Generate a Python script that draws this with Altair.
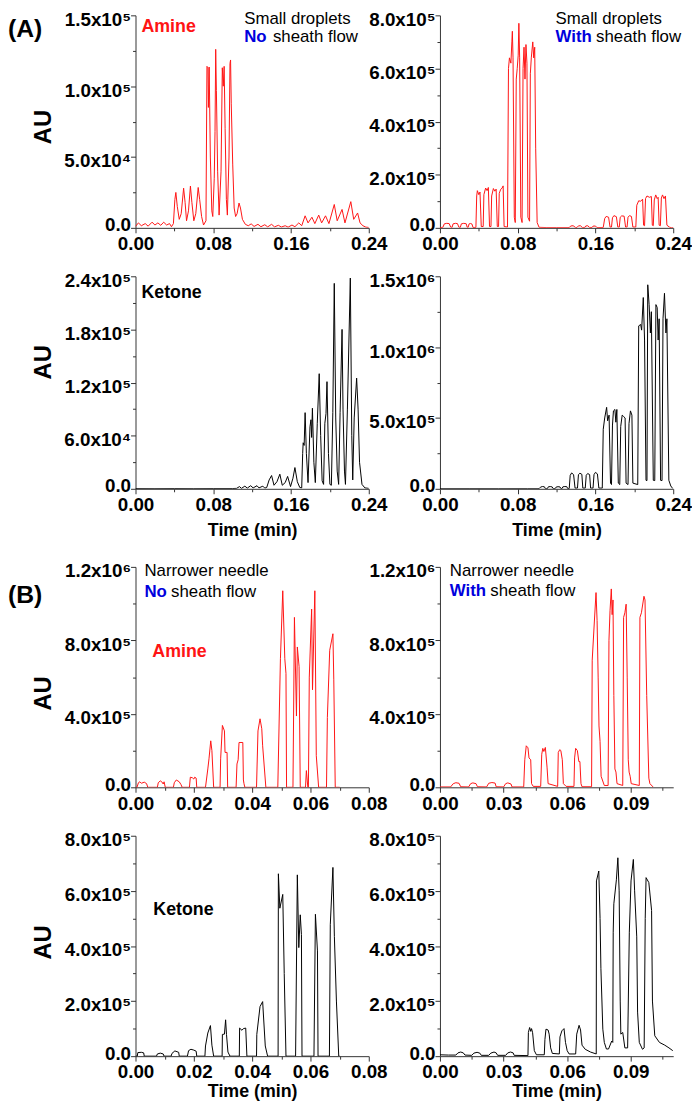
import json
import altair as alt
import pandas as pd

FONT = "Liberation Sans"
RED = "#ff1414"
BLUE = "#0000dd"
BLACK = "#000000"

# ---------------- data: (time in min, intensity in AU) ----------------
A_AMINE_NO = [
    (0.000, 1000), (0.003, 3500), (0.006, 1500), (0.010, 3000), (0.013, 1200), (0.017, 4000),
    (0.020, 2000), (0.023, 3500), (0.026, 1800), (0.029, 4000), (0.032, 2000), (0.035, 3000),
    (0.037, 800), (0.039, 3000), (0.0405, 20000), (0.0415, 25000), (0.043, 15000), (0.045, 6000),
    (0.047, 10000), (0.0495, 28000), (0.051, 18000), (0.0525, 5000), (0.0545, 12000), (0.0565, 29500),
    (0.058, 18000), (0.060, 5000), (0.062, 10000), (0.0645, 28500), (0.066, 20000), (0.068, 8000),
    (0.070, 2000), (0.0725, 5000), (0.0735, 114000), (0.0745, 113000), (0.075, 85000), (0.0758, 113500),
    (0.077, 50000), (0.0785, 12000), (0.0795, 8000), (0.081, 35000), (0.0818, 68000), (0.0825, 126000),
    (0.0832, 97000), (0.0845, 40000), (0.086, 9000), (0.088, 40000), (0.0893, 113000), (0.0903, 100000),
    (0.0912, 114000), (0.0922, 70000), (0.0935, 20000), (0.0945, 9000), (0.0962, 50000), (0.0972, 116000),
    (0.0978, 118500), (0.0985, 88000), (0.100, 45000), (0.1015, 14000), (0.103, 8000), (0.1045, 10000),
    (0.1065, 17500), (0.108, 14000), (0.110, 6000), (0.113, 2500), (0.116, 1500), (0.119, 2800),
    (0.122, 1000), (0.126, 2500), (0.129, 800), (0.133, 2200), (0.136, 700), (0.140, 2500),
    (0.143, 700), (0.147, 1800), (0.150, 600), (0.154, 1500), (0.157, 500), (0.161, 2000),
    (0.164, 800), (0.168, 3500), (0.171, 1500), (0.1745, 8500), (0.1775, 3500), (0.1815, 7500),
    (0.1845, 3000), (0.1885, 9000), (0.1915, 3500), (0.1955, 8500), (0.199, 3000), (0.2045, 16500),
    (0.2075, 5000), (0.2125, 13000), (0.2155, 3500), (0.2215, 18500), (0.2245, 6000), (0.2285, 10500),
    (0.231, 3500), (0.234, 1500), (0.237, 500), (0.240, 300),
]

A_AMINE_WITH = [
    (0.000, 1000), (0.003, 2000), (0.0045, 15000), (0.007, 17000), (0.0095, 16000), (0.011, 3000),
    (0.0125, 2000), (0.0135, 15000), (0.016, 17000), (0.018, 16000), (0.0195, 2500), (0.021, 2000),
    (0.022, 15000), (0.0245, 17000), (0.027, 15500), (0.028, 2500), (0.029, 2000), (0.030, 15000),
    (0.0315, 16500), (0.033, 14000), (0.034, 1500), (0.037, 1500),
    (0.0378, 120000), (0.0385, 140000), (0.040, 125000), (0.0412, 135000), (0.0425, 5000), (0.0445, 5000),
    (0.0452, 125000), (0.047, 150000), (0.0485, 140000), (0.0498, 152000), (0.051, 5000), (0.0525, 5000),
    (0.0532, 120000), (0.055, 148000), (0.0565, 138000), (0.0578, 146000), (0.059, 5000), (0.0603, 5000),
    (0.061, 130000), (0.0625, 145000), (0.064, 150000), (0.065, 158000), (0.066, 5000), (0.0695, 3000),
    (0.0705, 600000), (0.0715, 640000), (0.073, 620000), (0.074, 700000), (0.0745, 740000), (0.0752, 640000),
    (0.0765, 40000), (0.0775, 20000), (0.0785, 560000), (0.0795, 600000), (0.0805, 650000), (0.0812, 770000),
    (0.082, 640000), (0.0832, 40000), (0.0845, 20000), (0.0855, 600000), (0.0865, 680000), (0.0875, 560000),
    (0.0885, 690000), (0.0895, 620000), (0.0905, 40000), (0.0922, 25000), (0.093, 580000), (0.094, 640000),
    (0.0955, 700000), (0.0965, 640000), (0.0975, 680000), (0.0985, 300000), (0.100, 20000), (0.102, 2000),
    (0.110, 1000), (0.120, 1000), (0.133, 1000), (0.1345, 7000), (0.137, 8000), (0.1395, 1500),
    (0.141, 1500), (0.1425, 7500), (0.1445, 8000), (0.1465, 1500), (0.149, 1500), (0.150, 7000),
    (0.152, 8000), (0.154, 1500), (0.1565, 1500), (0.1575, 6500), (0.160, 7000), (0.1615, 1000),
    (0.168, 1500), (0.1695, 35000), (0.171, 43000), (0.1735, 40000), (0.175, 3000), (0.1765, 3000),
    (0.1775, 38000), (0.179, 46000), (0.1815, 42000), (0.183, 3000), (0.1845, 3000), (0.1855, 40000),
    (0.187, 45000), (0.1895, 44000), (0.191, 3000), (0.1925, 3000), (0.1935, 40000), (0.195, 46000),
    (0.197, 43000), (0.1985, 3000), (0.2015, 3000), (0.2025, 85000), (0.2045, 102000), (0.2065, 100000),
    (0.2085, 108000), (0.2095, 10000), (0.2105, 8000), (0.2115, 110000), (0.213, 120000), (0.2155, 115000),
    (0.2175, 118000), (0.2185, 10000), (0.2195, 8000), (0.2205, 105000), (0.222, 124000), (0.2235, 110000),
    (0.2245, 115000), (0.2255, 10000), (0.2268, 8000), (0.2278, 112000), (0.229, 124000), (0.2305, 110000),
    (0.232, 120000), (0.2335, 10000), (0.236, 3000), (0.238, 500), (0.240, 500),
]

A_KETONE_NO = [
    (0.000, 300), (0.020, 200), (0.040, 300), (0.060, 200), (0.080, 300), (0.100, 300),
    (0.104, 500), (0.107, 2500), (0.109, 500), (0.1125, 3000), (0.115, 800), (0.1185, 3500),
    (0.121, 1000), (0.125, 3500), (0.127, 1000), (0.131, 3000), (0.133, 800), (0.135, 1500),
    (0.1375, 10000), (0.140, 15000), (0.1425, 4000), (0.1455, 8000), (0.1485, 16500), (0.151, 4000),
    (0.154, 7000), (0.1565, 14000), (0.1595, 2500), (0.162, 12000), (0.164, 24000), (0.1665, 8000),
    (0.169, 1500), (0.171, 1000), (0.172, 40000), (0.1725, 52000), (0.1735, 49000), (0.1745, 86000),
    (0.1758, 40000), (0.1775, 7000), (0.1795, 70000), (0.1805, 78000), (0.1812, 58000), (0.182, 91000),
    (0.1835, 30000), (0.185, 7000), (0.187, 74000), (0.189, 130000), (0.1905, 60000), (0.192, 9000),
    (0.1935, 5000), (0.1948, 74000), (0.196, 85000), (0.197, 121000), (0.1985, 40000), (0.200, 5000),
    (0.2015, 4000), (0.203, 86000), (0.2045, 232000), (0.206, 80000), (0.2075, 20000), (0.209, 5000),
    (0.2105, 86000), (0.2125, 180000), (0.2135, 90000), (0.215, 20000), (0.216, 5000), (0.218, 90000),
    (0.221, 238000), (0.2225, 60000), (0.2235, 10000), (0.225, 80000), (0.2275, 125000), (0.229, 90000),
    (0.2305, 30000), (0.233, 5000), (0.236, 1000), (0.240, 500),
]

A_KETONE_WITH = [
    (0.000, 1000), (0.030, 1000), (0.060, 800), (0.090, 1000), (0.102, 1000), (0.1035, 12000),
    (0.1055, 16000), (0.1075, 14000), (0.1085, 1000), (0.1105, 1000), (0.1115, 14000), (0.1135, 16000),
    (0.1155, 13000), (0.1165, 1000), (0.1185, 1000), (0.1195, 12000), (0.1215, 15000), (0.1235, 13000),
    (0.1245, 1000), (0.1255, 1000), (0.1265, 14000), (0.1285, 16000), (0.1305, 15000), (0.1315, 1000),
    (0.133, 2000), (0.134, 95000), (0.1355, 112000), (0.1375, 100000), (0.139, 5000), (0.1415, 5000),
    (0.1425, 100000), (0.144, 110000), (0.146, 102000), (0.147, 5000), (0.1495, 5000), (0.1505, 95000),
    (0.152, 108000), (0.154, 100000), (0.155, 5000), (0.1575, 5000), (0.1585, 100000), (0.160, 116000),
    (0.162, 105000), (0.1635, 5000), (0.167, 5000), (0.168, 420000), (0.1695, 500000), (0.1715, 575000),
    (0.1725, 480000), (0.174, 520000), (0.1755, 40000), (0.1765, 30000), (0.1775, 450000), (0.1785, 550000),
    (0.180, 560000), (0.181, 470000), (0.182, 560000), (0.1835, 40000), (0.185, 30000), (0.186, 440000),
    (0.1875, 520000), (0.189, 510000), (0.1905, 500000), (0.1915, 40000), (0.1935, 30000), (0.1945, 460000),
    (0.196, 550000), (0.1975, 520000), (0.1985, 40000), (0.2035, 30000), (0.2045, 1150000), (0.2065, 1160000),
    (0.2075, 1120000), (0.2092, 1350000), (0.2105, 1050000), (0.212, 60000), (0.213, 58000), (0.2138, 1440000),
    (0.2152, 1300000), (0.2165, 1100000), (0.2175, 1250000), (0.2195, 60000), (0.221, 58000), (0.2222, 1300000),
    (0.2235, 1280000), (0.2245, 1050000), (0.2255, 1200000), (0.227, 60000), (0.2285, 58000), (0.2295, 1200000),
    (0.231, 1380000), (0.2325, 1100000), (0.2335, 1200000), (0.2355, 60000), (0.2375, 20000), (0.2395, 2000),
]

B_AMINE_NO = [
    (0.000, 0), (0.0005, 0), (0.001, 25000), (0.0015, 30000), (0.002, 22000), (0.003, 28000),
    (0.0038, 20000), (0.0042, 0), (0.0075, 0), (0.0078, 25000), (0.0085, 35000), (0.009, 30000),
    (0.0095, 18000), (0.0098, 30000), (0.0102, 0), (0.013, 0), (0.0133, 25000), (0.014, 40000),
    (0.015, 30000), (0.0156, 15000), (0.016, 0), (0.0185, 0), (0.0188, 55000), (0.0195, 52000),
    (0.020, 45000), (0.0203, 55000), (0.0208, 50000), (0.021, 0), (0.024, 0), (0.0248, 100000),
    (0.0252, 155000), (0.0258, 253000), (0.0262, 200000), (0.0268, 0), (0.029, 0), (0.0292, 155000),
    (0.0298, 337000), (0.0305, 307000), (0.0307, 190000), (0.0314, 190000), (0.0316, 0), (0.0345, 0),
    (0.0348, 127000), (0.0352, 150000), (0.0355, 244000), (0.0368, 244000), (0.037, 40000), (0.0372, 20000),
    (0.0375, 0), (0.0415, 0), (0.042, 307000), (0.0427, 373000), (0.0433, 319000), (0.0436, 226000),
    (0.0447, 0), (0.0488, 0), (0.0497, 700000), (0.0505, 1070000), (0.0512, 700000), (0.0516, 620000),
    (0.0518, 0), (0.054, 0), (0.0545, 925000), (0.0552, 388000), (0.0555, 764000), (0.0561, 657000),
    (0.0565, 0), (0.0583, 0), (0.0586, 91000), (0.0591, 0), (0.0593, 0), (0.0596, 600000),
    (0.0604, 970000), (0.0607, 531000), (0.0615, 1070000), (0.062, 172000), (0.0628, 0), (0.0655, 0),
    (0.0658, 380000), (0.0666, 746000), (0.0677, 836000), (0.068, 585000), (0.0685, 0), (0.070, 0),
]

B_AMINE_WITH = [
    (0.000, 2000), (0.005, 2000), (0.0063, 20000), (0.0075, 25000), (0.009, 22000), (0.0098, 3000),
    (0.0135, 2000), (0.0145, 20000), (0.0155, 24000), (0.017, 20000), (0.0177, 3000), (0.022, 2000),
    (0.023, 22000), (0.0245, 26000), (0.026, 23000), (0.0265, 3000), (0.030, 2000), (0.031, 20000),
    (0.032, 24000), (0.0335, 18000), (0.034, 2000), (0.0395, 2000), (0.040, 150000), (0.0407, 226000),
    (0.0415, 215000), (0.042, 160000), (0.0428, 150000), (0.0432, 20000), (0.044, 5000), (0.0475, 5000),
    (0.048, 180000), (0.0485, 212000), (0.049, 195000), (0.0497, 217000), (0.0505, 110000), (0.051, 20000),
    (0.0555, 5000), (0.0558, 190000), (0.0565, 205000), (0.057, 200000), (0.0577, 150000), (0.0582, 20000),
    (0.0595, 5000), (0.0632, 5000), (0.0635, 160000), (0.064, 212000), (0.0648, 200000), (0.0655, 140000),
    (0.066, 140000), (0.0665, 20000), (0.067, 3000), (0.0715, 3000), (0.0718, 692000), (0.0728, 900000),
    (0.0736, 1060000), (0.0741, 908000), (0.0746, 600000), (0.075, 334000), (0.0755, 250000), (0.076, 60000),
    (0.0775, 10000), (0.0793, 10000), (0.0797, 800000), (0.0802, 961000), (0.0808, 1080000), (0.0812, 940000),
    (0.0816, 1020000), (0.082, 500000), (0.0825, 100000), (0.083, 83000), (0.0835, 20000), (0.0862, 10000),
    (0.0866, 925000), (0.0872, 950000), (0.0878, 997000), (0.0883, 600000), (0.0888, 150000), (0.0892, 83000),
    (0.0897, 60000), (0.0902, 20000), (0.094, 10000), (0.0943, 925000), (0.095, 950000), (0.0962, 1040000),
    (0.0967, 1020000), (0.0975, 500000), (0.0985, 50000), (0.099, 20000), (0.1005, 2000),
]

B_KETONE_NO = [
    (0.000, 0), (0.0006, 0), (0.0008, 13000), (0.002, 14000), (0.0028, 12000), (0.003, 0),
    (0.0072, 0), (0.0075, 8000), (0.0085, 11000), (0.0095, 8000), (0.0098, 0), (0.0122, 0),
    (0.0125, 10000), (0.0135, 19000), (0.0148, 14000), (0.015, 0), (0.0178, 0), (0.0182, 20000),
    (0.019, 25000), (0.020, 22000), (0.0208, 18000), (0.021, 0), (0.0238, 0), (0.024, 37000),
    (0.0248, 84000), (0.0257, 111000), (0.0262, 40000), (0.0268, 0), (0.0297, 0), (0.0298, 79000),
    (0.0305, 80000), (0.0309, 132000), (0.0312, 79000), (0.0317, 15000), (0.0324, 0), (0.0356, 0),
    (0.0357, 102000), (0.0365, 94000), (0.037, 100000), (0.0378, 102000), (0.0382, 0), (0.0415, 0),
    (0.0416, 79000), (0.0427, 180000), (0.0436, 198000), (0.0445, 37000), (0.0453, 0), (0.0489, 0),
    (0.049, 662000), (0.0495, 537000), (0.0505, 587000), (0.051, 300000), (0.0516, 0), (0.0549, 0),
    (0.0555, 658000), (0.056, 394000), (0.0565, 513000), (0.0569, 441000), (0.0571, 0), (0.0612, 0),
    (0.0617, 515000), (0.0624, 382000), (0.0626, 0), (0.0665, 0), (0.0668, 477000), (0.0677, 685000),
    (0.0682, 435000), (0.0689, 200000), (0.0697, 0), (0.070, 0),
]

B_KETONE_WITH = [
    (0.000, 5000), (0.004, 4000), (0.0075, 4000), (0.0085, 12000), (0.0098, 15000), (0.011, 12000),
    (0.0118, 4000), (0.015, 3000), (0.016, 11000), (0.0175, 14000), (0.0188, 11000), (0.0195, 3000),
    (0.023, 3000), (0.024, 11000), (0.0255, 15000), (0.0265, 12000), (0.0272, 3000), (0.031, 3000),
    (0.032, 12000), (0.0333, 15000), (0.0345, 12000), (0.035, 3000), (0.0415, 2000), (0.0417, 86000),
    (0.0423, 104000), (0.0428, 90000), (0.0432, 100000), (0.0437, 85000), (0.0445, 20000), (0.0455, 5000),
    (0.0492, 5000), (0.0495, 60000), (0.050, 98000), (0.051, 95000), (0.0515, 80000), (0.0522, 30000),
    (0.053, 10000), (0.0563, 8000), (0.0566, 70000), (0.0575, 92000), (0.0585, 100000), (0.0592, 50000),
    (0.060, 20000), (0.0609, 8000), (0.064, 8000), (0.0645, 80000), (0.0656, 112000), (0.0663, 95000),
    (0.067, 40000), (0.0685, 25000), (0.071, 15000), (0.0737, 8000), (0.0738, 636000), (0.0749, 672000),
    (0.0755, 500000), (0.0759, 319000), (0.0768, 98000), (0.0775, 50000), (0.0785, 26000), (0.0795, 26000),
    (0.081, 55000), (0.0815, 50000), (0.0817, 450000), (0.082, 553000), (0.0832, 640000), (0.0839, 720000),
    (0.0845, 600000), (0.085, 200000), (0.0853, 80000), (0.0862, 86000), (0.0872, 30000), (0.0885, 30000),
    (0.0893, 450000), (0.0901, 636000), (0.0912, 714000), (0.0918, 600000), (0.0928, 433000), (0.0932, 160000),
    (0.094, 50000), (0.0955, 25000), (0.0963, 30000), (0.0968, 500000), (0.0972, 648000), (0.0985, 630000),
    (0.0998, 529000), (0.1002, 200000), (0.1013, 74000), (0.1035, 50000), (0.106, 40000), (0.108, 30000),
    (0.1098, 20000),
]

# ---------------- axis ticks and labels ----------------
XA_MAJOR = [0, 0.08, 0.16, 0.24]
XA_MINOR = [0.04, 0.12, 0.20]
XB1_MAJOR = [0, 0.02, 0.04, 0.06, 0.08]
XB1_MINOR = [0.01, 0.03, 0.05, 0.07]
XB2_MAJOR = [0, 0.03, 0.06, 0.09]
XB2_MINOR = [0.015, 0.045, 0.075, 0.105]

Y1_MAJOR = [0, 50000, 100000, 150000]
Y1_MINOR = [25000, 75000, 125000]
Y1_LABELS = ["0.0", "5.0x10⁴", "1.0x10⁵", "1.5x10⁵"]

Y2_MAJOR = [0, 200000, 400000, 600000, 800000]
Y2_MINOR = [100000, 300000, 500000, 700000]
Y2_LABELS = ["0.0", "2.0x10⁵", "4.0x10⁵", "6.0x10⁵", "8.0x10⁵"]

Y3_MAJOR = [0, 60000, 120000, 180000, 240000]
Y3_MINOR = [30000, 90000, 150000, 210000]
Y3_LABELS = ["0.0", "6.0x10⁴", "1.2x10⁵", "1.8x10⁵", "2.4x10⁵"]

Y4_MAJOR = [0, 500000, 1000000, 1500000]
Y4_MINOR = [250000, 750000, 1250000]
Y4_LABELS = ["0.0", "5.0x10⁵", "1.0x10⁶", "1.5x10⁶"]

Y5_MAJOR = [0, 400000, 800000, 1200000]
Y5_MINOR = [200000, 600000, 1000000]
Y5_LABELS = ["0.0", "4.0x10⁵", "8.0x10⁵", "1.2x10⁶"]

W = 236


def xaxis(major, minor, title, tpad):
    test = f"indexof({json.dumps(major)}, datum.value) >= 0"
    return alt.Axis(
        values=sorted(major + minor),
        labelExpr=f"{test} ? format(datum.value, '.2f') : ''",
        tickSize={"condition": {"test": test, "value": 5}, "value": 3},
        labelFlush=False, labelOverlap=False, labelPadding=2,
        titlePadding=tpad, title=title,
    )


def yaxis(major, minor, labels):
    expr = "''"
    for v, lab in reversed(list(zip(major, labels))):
        expr = f"datum.value == {v} ? '{lab}' : ({expr})"
    test = f"indexof({json.dumps(major)}, datum.value) >= 0"
    return alt.Axis(
        values=sorted(major + minor), labelExpr=expr,
        tickSize={"condition": {"test": test, "value": 5}, "value": 3},
        labelFlush=False, labelOverlap=False, labelPadding=0,
        labelOffset={"condition": {"test": "datum.value == 0", "value": -3}, "value": 4},
        title=None,
    )


def txt(s, x, y, color=BLACK, weight="normal", size=17, baseline="alphabetic", angle=0, align="left"):
    return alt.Chart(pd.DataFrame({"s": [s]})).mark_text(
        font=FONT, fontSize=size, fontWeight=weight, color=color,
        baseline=baseline, align=align, angle=angle,
    ).encode(text="s:N", x=alt.value(x), y=alt.value(y))


def panel(pairs, color, xmaj, xmin, xdom, ymaj, ymin, ylab, ydom, h, off, xtitle, texts, tpad=1):
    df = pd.DataFrame(pairs, columns=["t", "v"])
    line = alt.Chart(df).mark_line(color=color, strokeWidth=1, clip=True).encode(
        x=alt.X("t:Q", scale=alt.Scale(domain=xdom, nice=False, zero=False),
                axis=xaxis(xmaj, xmin, xtitle, tpad)),
        y=alt.Y("v:Q", scale=alt.Scale(domain=ydom, nice=False, zero=False, range=[h, off]),
                axis=yaxis(ymaj, ymin, ylab)),
    )
    layers = [line] + [txt(**dict(t, y=t["y"] + off)) for t in texts]
    return alt.layer(*layers).properties(width=W, height=h)


def au(y):
    return dict(s="AU", x=-93, y=y, weight="bold", size=24, baseline="middle", angle=270, align="center")


p1 = panel(A_AMINE_NO, RED, XA_MAJOR, XA_MINOR, [0, 0.24], Y1_MAJOR, Y1_MINOR, Y1_LABELS, [0, 150000],
           215, 0, None, [
               dict(s="(A)", x=-129, y=14, weight="bold", size=25, baseline="middle"),
               au(113),
               dict(s="Amine", x=6, y=17, color=RED, weight="bold", size=18),
               dict(s="Small droplets", x=110, y=9),
               dict(s="No", x=110, y=27, color=BLUE, weight="bold"),
               dict(s="sheath flow", x=139, y=27),
           ])
p2 = panel(A_AMINE_WITH, RED, XA_MAJOR, XA_MINOR, [0, 0.24], Y2_MAJOR, Y2_MINOR, Y2_LABELS, [0, 800000],
           215, 0, None, [
               dict(s="Small droplets", x=117, y=9),
               dict(s="With", x=117, y=27, color=BLUE, weight="bold"),
               dict(s="sheath flow", x=158, y=27),
           ])
p3 = panel(A_KETONE_NO, BLACK, XA_MAJOR, XA_MINOR, [0, 0.24], Y3_MAJOR, Y3_MINOR, Y3_LABELS, [0, 240000],
           215, 0, "Time (min)", [
               au(87),
               dict(s="Ketone", x=6, y=22, weight="bold", size=18),
           ], tpad=7)
p4 = panel(A_KETONE_WITH, BLACK, XA_MAJOR, XA_MINOR, [0, 0.24], Y4_MAJOR, Y4_MINOR, Y4_LABELS, [0, 1500000],
           215, 0, "Time (min)", [], tpad=7)
p5 = panel(B_AMINE_NO, RED, XB1_MAJOR, XB1_MINOR, [0, 0.08], Y5_MAJOR, Y5_MINOR, Y5_LABELS, [0, 1200000],
           253, 30, None, [
               dict(s="(B)", x=-129, y=29, weight="bold", size=25, baseline="middle"),
               au(128),
               dict(s="Narrower needle", x=9, y=9),
               dict(s="No", x=9, y=30, color=BLUE, weight="bold"),
               dict(s="sheath flow", x=36, y=30),
               dict(s="Amine", x=17, y=91, color=RED, weight="bold", size=18),
           ])
p6 = panel(B_AMINE_WITH, RED, XB2_MAJOR, XB2_MINOR, [0, 0.11], Y5_MAJOR, Y5_MINOR, Y5_LABELS, [0, 1200000],
           253, 30, None, [
               dict(s="Narrower needle", x=10, y=9),
               dict(s="With", x=10, y=29, color=BLUE, weight="bold"),
               dict(s="sheath flow", x=51, y=29),
           ])
p7 = panel(B_KETONE_NO, BLACK, XB1_MAJOR, XB1_MINOR, [0, 0.08], Y2_MAJOR, Y2_MINOR, Y2_LABELS, [0, 800000],
           223, 0, "Time (min)", [
               au(108),
               dict(s="Ketone", x=18, y=80, weight="bold", size=18),
           ])
p8 = panel(B_KETONE_WITH, BLACK, XB2_MAJOR, XB2_MINOR, [0, 0.11], Y2_MAJOR, Y2_MINOR, Y2_LABELS, [0, 800000],
           223, 0, "Time (min)", [])

chart = alt.concat(
    p1, p2, p3, p4, p5, p6, p7, p8,
    columns=2, spacing={"row": 49, "column": 72}, bounds="flush", align="each",
).properties(
    padding={"left": 0, "top": -4, "right": 0, "bottom": 0}
).configure_view(stroke=None).configure_axis(
    grid=False, domainColor="#333333", tickColor="#333333", domainWidth=1, tickWidth=1,
    labelFont=FONT, labelFontSize=19, labelFontWeight="bold", labelColor="#000000",
    titleFont=FONT, titleFontSize=18, titleFontWeight="bold", titleColor="#000000",
)

chart.save("out.html", embed_options={"renderer": "svg", "actions": False})
